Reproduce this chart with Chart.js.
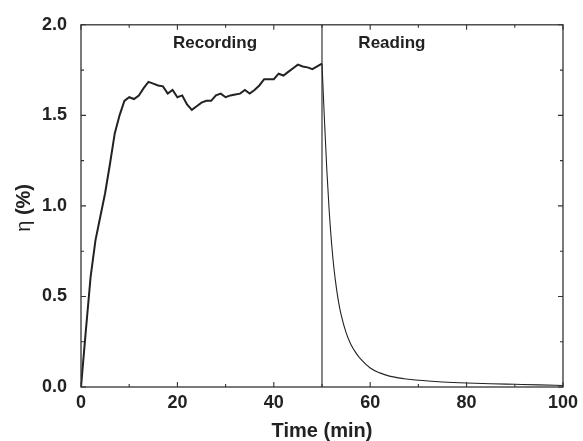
<!DOCTYPE html>
<html>
<head>
<meta charset="utf-8">
<script src="https://cdn.jsdelivr.net/npm/chart.js@4.4.1/dist/chart.umd.min.js"></script>
<style>
  body { margin: 0; background: #fff; }
  canvas { display: block; }
</style>
</head>
<body>
<canvas id="etaChart" width="583" height="441"></canvas>
<script>
// recording phase, one point per minute
const recTime = [0,1,2,3,4,5,6,7,8,9,10,11,12,13,14,15,16,17,18,19,20,21,22,23,24,25,26,27,28,29,30,31,32,33,34,35,36,37,38,39,40,41,42,43,44,45,46,47,48,49,50];
const recEta = [0,0.31,0.61,0.81,0.94,1.07,1.23,1.40,1.50,1.58,1.60,1.59,1.61,1.65,1.685,1.675,1.665,1.66,1.62,1.64,1.60,1.61,1.56,1.53,1.55,1.57,1.58,1.58,1.61,1.62,1.60,1.61,1.615,1.62,1.64,1.62,1.64,1.665,1.70,1.70,1.70,1.73,1.72,1.74,1.76,1.78,1.77,1.765,1.755,1.77,1.785];

// reading phase (decay)
const readTime = [50,50.5,51,51.5,52,52.5,53,53.5,54,55,56,57,58,60,62,64,67,70,75,80,85,90,95,100];
const readEta = [1.785,1.48,1.20,0.97,0.79,0.65,0.545,0.46,0.395,0.30,0.235,0.19,0.155,0.105,0.078,0.060,0.046,0.037,0.028,0.022,0.018,0.015,0.012,0.008];

// the vertical separator at t = 50
const splitTime = [50,50];
const splitEta = [0,2];

const xTicks = [0,20,40,60,80,100];
const yTicks = [0,0.5,1.0,1.5,2.0];

const FONT = '"Liberation Sans", Arial, sans-serif';
const INK = '#222';

function pts(xs, ys) {
  return xs.map((x, i) => ({x: x, y: ys[i]}));
}

// frame, inward ticks on all four sides, y title and the two phase labels
const framePlugin = {
  id: 'frame',
  afterDatasetsDraw(chart) {
    const c = chart.ctx;
    const a = chart.chartArea;
    const xs = chart.scales.x, ys = chart.scales.y;
    c.save();
    c.strokeStyle = '#333';
    c.lineWidth = 1.3;
    c.strokeRect(a.left, a.top, a.right - a.left, a.bottom - a.top);
    c.lineWidth = 1.1;
    c.beginPath();
    for (let v = 0; v <= 100; v += 10) {
      const px = xs.getPixelForValue(v);
      const len = v % 20 === 0 ? 5 : 3;
      c.moveTo(px, a.bottom); c.lineTo(px, a.bottom - len);
      c.moveTo(px, a.top); c.lineTo(px, a.top + len);
    }
    for (let v = 0; v <= 2.001; v += 0.25) {
      const py = ys.getPixelForValue(v);
      const len = Math.abs(v * 2 - Math.round(v * 2)) < 1e-6 ? 5 : 3;
      c.moveTo(a.left, py); c.lineTo(a.left + len, py);
      c.moveTo(a.right, py); c.lineTo(a.right - len, py);
    }
    c.stroke();

    c.fillStyle = INK;
    c.font = 'bold 17px ' + FONT;
    c.textAlign = 'center';
    c.textBaseline = 'alphabetic';
    c.fillText('Recording', xs.getPixelForValue(27.8), 48);
    c.fillText('Reading', xs.getPixelForValue(64.5), 48);

    // y title: regular eta, bold (%)
    const eta = 'η ';
    const pct = '(%)';
    c.font = '20px ' + FONT;
    const w1 = c.measureText(eta).width;
    c.font = 'bold 20px ' + FONT;
    const w2 = c.measureText(pct).width;
    c.translate(30, (a.top + a.bottom) / 2 + 2);
    c.rotate(-Math.PI / 2);
    c.textAlign = 'left';
    const start = -(w1 + w2) / 2;
    c.font = '20px ' + FONT;
    c.fillText(eta, start, 0);
    c.font = 'bold 20px ' + FONT;
    c.fillText(pct, start + w1, 0);
    c.restore();
  }
};

let etaCtx = document.getElementById('etaChart').getContext('2d');

let etaChart = new Chart(etaCtx, {
  type: 'line',
  data: {
    datasets: [{
      label: 'Recording',
      data: pts(recTime, recEta),
      borderColor: INK,
      borderWidth: 2,
      pointRadius: 0,
      tension: 0
    }, {
      label: 'Reading',
      data: pts(readTime, readEta),
      borderColor: INK,
      borderWidth: 1.1,
      pointRadius: 0,
      cubicInterpolationMode: 'monotone'
    }, {
      label: 'split',
      data: pts(splitTime, splitEta),
      borderColor: INK,
      borderWidth: 1.1,
      pointRadius: 0
    }]
  },
  options: {
    responsive: false,
    animation: false,
    layout: { padding: { top: 18, right: 20, left: 0, bottom: 0 } },
    plugins: {
      legend: { display: false },
      tooltip: { enabled: false }
    },
    scales: {
      x: {
        type: 'linear',
        min: 0,
        max: 100,
        afterFit(s) { s.height = 54; },
        afterBuildTicks(s) { s.ticks = xTicks.map(v => ({value: v})); },
        grid: { display: false, drawTicks: false },
        border: { display: false },
        ticks: {
          padding: 5,
          color: INK,
          font: { family: FONT, size: 18, weight: 'bold' },
          maxRotation: 0
        },
        title: {
          display: true,
          text: 'Time (min)',
          color: INK,
          font: { family: FONT, size: 20, weight: 'bold', lineHeight: 1 },
          padding: { top: 0, bottom: 0 }
        }
      },
      y: {
        type: 'linear',
        min: 0,
        max: 2,
        afterFit(s) { s.width = 81; },
        afterBuildTicks(s) { s.ticks = yTicks.map(v => ({value: v})); },
        grid: { display: false, drawTicks: false },
        border: { display: false },
        ticks: {
          padding: 14,
          color: INK,
          font: { family: FONT, size: 18, weight: 'bold' },
          callback: v => v.toFixed(1)
        },
        title: { display: false }
      }
    }
  },
  plugins: [framePlugin]
});
</script>
</body>
</html>
